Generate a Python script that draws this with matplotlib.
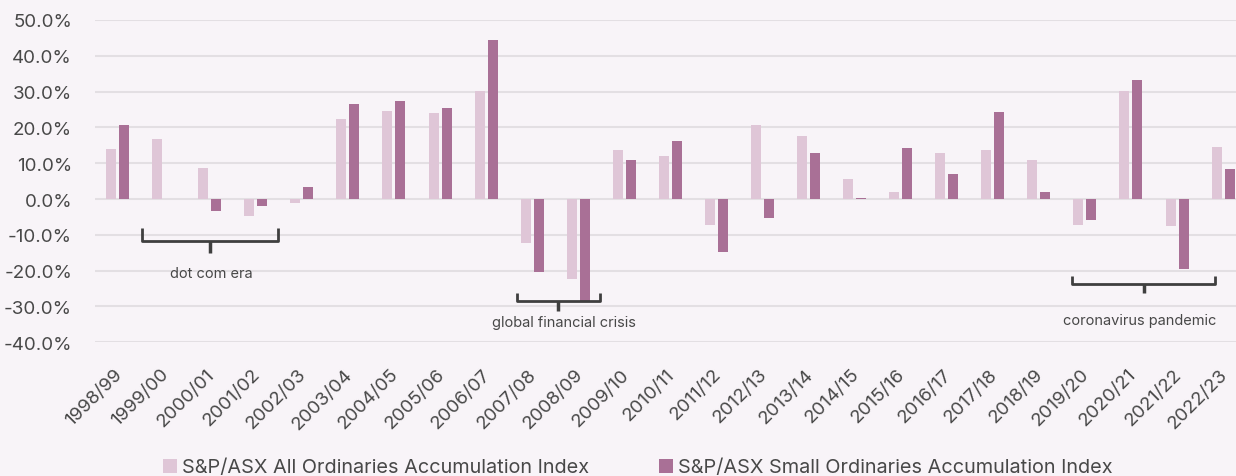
import matplotlib
matplotlib.use("Agg")
import matplotlib.pyplot as plt
import matplotlib.transforms as mtransforms
import numpy as np
from matplotlib.patches import Patch

years = ["1998/99", "1999/00", "2000/01", "2001/02", "2002/03", "2003/04", "2004/05",
         "2005/06", "2006/07", "2007/08", "2008/09", "2009/10", "2010/11", "2011/12",
         "2012/13", "2013/14", "2014/15", "2015/16", "2016/17", "2017/18", "2018/19",
         "2019/20", "2020/21", "2021/22", "2022/23"]
all_ords = [14.1, 16.7, 8.7, -4.7, -1.1, 22.3, 24.6, 24.0, 30.2, -12.2, -22.2, 13.7,
            12.1, -7.2, 20.6, 17.6, 5.6, 2.0, 13.0, 13.7, 10.9, -7.3, 30.2, -7.5, 14.6]
small_ords = [20.8, 0.0, -3.3, -1.9, 3.5, 26.6, 27.3, 25.3, 44.3, -20.5, -28.4, 11.0,
              16.3, -14.7, -5.4, 13.0, 0.3, 14.2, 7.0, 24.2, 1.9, -5.8, 33.2, -19.6, 8.4]
series_names = ["S&P/ASX All Ordinaries Accumulation Index",
                "S&P/ASX Small Ordinaries Accumulation Index"]
y_ticks = [-40, -30, -20, -10, 0, 10, 20, 30, 40, 50]

# annotation brackets: (x start, x end, y top of ends, y of line, y of tip, label, label y)
bracket_labels = ["dot com era", "global financial crisis", "coronavirus pandemic"]
bracket_x0 = [0.54, 8.67, 20.73]
bracket_x1 = [3.49, 10.47, 23.82]
bracket_ytop = [-8.0, -26.1, -21.4]
bracket_yline = [-11.65, -28.4, -23.7]
bracket_ytip = [-15.1, -31.2, -26.1]
label_x = [2.04, 9.7, 22.2]
label_y = [-20.7, -34.3, -33.8]

BG = "#F8F4F8"
LIGHT = "#DFC6D7"
DARK = "#A97096"
TEXT = "#484848"
GRID = "#E3DFE3"
BRACKET = "#3F3F3F"

plt.rcParams['font.family'] = ['Inter', 'DejaVu Sans']

W, H = 1236, 477
fig = plt.figure(figsize=(W / 100, H / 100), dpi=100, facecolor=BG)
ax = fig.add_axes([95 / W, 1 - 343.3 / H, 1 - 95 / W, (343.3 - 21) / H])
ax.set_facecolor(BG)

x = np.arange(len(years))
w = 0.217
off = 0.141
ax.bar(x - off, all_ords, w, color=LIGHT, zorder=2)
ax.bar(x + off, small_ords, w, color=DARK, zorder=2)

ax.set_ylim(-40, 50)
ax.set_xlim(-0.49, 24.28)
ax.set_yticks(y_ticks)
ax.yaxis.set_major_formatter(lambda v, p: f"{v:.1f}%")
ax.grid(axis='y', color=GRID, lw=1.5, zorder=0)
ax.set_axisbelow(True)
for s in ax.spines.values():
    s.set_visible(False)
ax.tick_params(axis='y', length=0, pad=16.5, labelsize=13.5, labelcolor=TEXT)
ax.set_xticks(x)
ax.set_xticklabels(years, rotation=45, ha='right', va='top', rotation_mode='anchor')
ax.tick_params(axis='x', length=0, pad=16.5, labelsize=13.5, labelcolor=TEXT)
shift = mtransforms.ScaledTranslation(-4 / 100, 0, fig.dpi_scale_trans)
for lab in ax.get_xticklabels():
    lab.set_transform(lab.get_transform() + shift)

for i in range(len(bracket_labels)):
    x0, x1 = bracket_x0[i], bracket_x1[i]
    xc = (x0 + x1) / 2
    ax.plot([x0, x0, x1, x1], [bracket_ytop[i], bracket_yline[i], bracket_yline[i], bracket_ytop[i]],
            color=BRACKET, lw=2, solid_joinstyle='round', solid_capstyle='butt', zorder=3)
    ax.plot([xc, xc], [bracket_yline[i], bracket_ytip[i]], color=BRACKET, lw=2.5,
            solid_capstyle='butt', zorder=3)
    ax.text(label_x[i], label_y[i], bracket_labels[i], ha='center', va='center',
            fontsize=10.5, color=TEXT, zorder=3)

handles = [Patch(facecolor=LIGHT, edgecolor='none'), Patch(facecolor=DARK, edgecolor='none')]
fig.legend(handles, series_names, loc='center left', bbox_to_anchor=(163 / W, 1 - 468.5 / H),
           ncol=2, frameon=False, fontsize=14.3, labelcolor=TEXT, handlelength=0.72,
           handleheight=0.7, handletextpad=0.25, columnspacing=3.5, borderpad=0,
           borderaxespad=0)

fig.savefig("out.png", dpi=100, facecolor=BG)
